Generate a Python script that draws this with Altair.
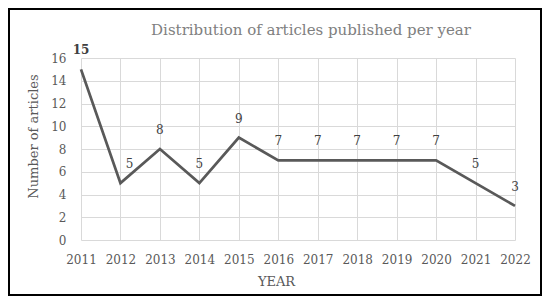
import altair as alt
import pandas as pd

years = [2011, 2012, 2013, 2014, 2015, 2016, 2017, 2018, 2019, 2020, 2021, 2022]
articles = [15, 5, 8, 5, 9, 7, 7, 7, 7, 7, 5, 3]
y_ticks = [0, 2, 4, 6, 8, 10, 12, 14, 16]
title_text = "Distribution of articles published per year"
x_title = "YEAR"
y_title = "Number of articles"

df = pd.DataFrame({"year": years, "n": articles})

FONT = "DejaVu Serif"
W, H = 434, 182
PL, PT, PR, PB = 73, 50, 27, 56

x_enc = alt.X("year:Q", scale=alt.Scale(domain=[2011, 2022], nice=False, zero=False),
              axis=alt.Axis(values=years, format="d", title=x_title, grid=True,
                            labelOverlap=False, labelFlush=False, labelPadding=14,
                            titleX=195, titlePadding=10))
y_enc = alt.Y("n:Q", scale=alt.Scale(domain=[0, 16], nice=False),
              axis=alt.Axis(values=y_ticks, title=y_title, grid=True,
                            labelOverlap=False, labelFlush=False, labelPadding=15,
                            titlePadding=10, titleY=78))

base = alt.Chart(df)

line = base.mark_line(color="#595959", strokeWidth=2.75).encode(x=x_enc, y=y_enc)

labels_main = base.transform_filter(
    "datum.year != 2011 && datum.year != 2012"
).mark_text(font=FONT, fontSize=12, color="#404040", baseline="alphabetic", dy=-15).encode(
    x=x_enc, y=y_enc, text="n:Q")

label_first = base.transform_filter("datum.year == 2011").mark_text(
    font=FONT, fontSize=12, fontWeight="bold", color="#404040", baseline="alphabetic", dy=-15
).encode(x=x_enc, y=y_enc, text="n:Q")

label_2012 = base.transform_filter("datum.year == 2012").mark_text(
    font=FONT, fontSize=12, color="#404040", baseline="alphabetic", dy=-15, dx=9
).encode(x=x_enc, y=y_enc, text="n:Q")

one = pd.DataFrame({"a": [0]})

border = alt.Chart(one).mark_rect(
    fill=None, stroke="#000000", strokeWidth=2
).encode(x=alt.value(-PL + 1), x2=alt.value(W + PR - 1),
         y=alt.value(-PT + 1), y2=alt.value(H + PB - 1))

title = alt.Chart(one).mark_text(
    text=title_text, font=FONT, fontSize=15, color="#808080", baseline="alphabetic", align="center"
).encode(x=alt.value(230), y=alt.value(-23))

chart = alt.layer(line, labels_main, label_first, label_2012, border, title).properties(
    width=W, height=H,
    padding={"left": PL, "top": PT, "right": PR, "bottom": PB},
    autosize=alt.AutoSizeParams(type="none"),
    background="white",
).configure_axis(
    labelFont=FONT, labelFontSize=12, labelColor="#595959",
    titleFont=FONT, titleFontSize=13, titleColor="#595959", titleFontWeight="normal",
    gridColor="#d9d9d9", gridWidth=1, domain=False, ticks=False,
).configure_view(stroke=None)

chart.save("out.html", embed_options={"renderer": "svg", "actions": False})
